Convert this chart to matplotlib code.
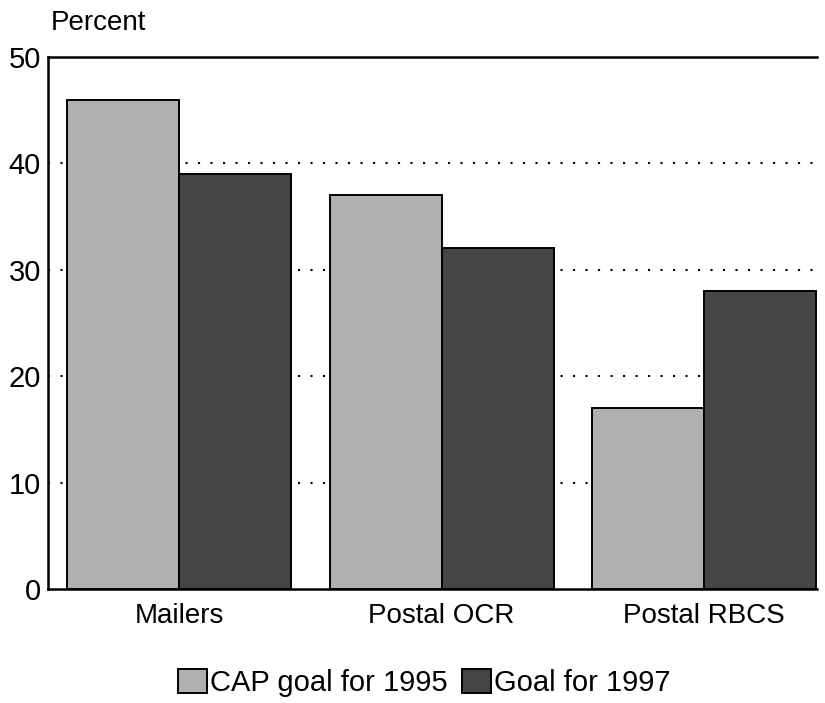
import matplotlib
matplotlib.use('Agg')
import matplotlib.pyplot as plt
import numpy as np

# data
categories = ['Mailers', 'Postal OCR', 'Postal RBCS']
cap_1995 = [46, 37, 17]
goal_1997 = [39, 32, 28]
series_names = ['CAP goal for 1995', 'Goal for 1997']

plt.rcParams['font.family'] = ['Liberation Sans', 'DejaVu Sans']

fig = plt.figure(figsize=(8.25, 7.03), dpi=100)
ax = fig.add_axes([0.0582, 0.1622, 0.9318, 0.7568])

x = np.arange(len(categories))
w = 0.427
b1 = ax.bar(x - w / 2, cap_1995, w, color='#b0b0b0', edgecolor='black',
            linewidth=1.4, label=series_names[0], zorder=3)
b2 = ax.bar(x + w / 2, goal_1997, w, color='#454545', edgecolor='black',
            linewidth=1.4, label=series_names[1], zorder=3)

ax.set_xlim(-0.5, x[-1] + w + 0.003)
ax.set_ylim(0, 50)
ax.set_yticks([0, 10, 20, 30, 40, 50])
ax.set_xticks(x)
ax.set_xticklabels(categories)
ax.tick_params(axis='both', length=0)
ax.tick_params(axis='y', pad=5, labelsize=21)
ax.tick_params(axis='x', pad=10, labelsize=20)

for v in [10, 20, 30, 40]:
    ax.axhline(v, color='black', linestyle=(0, (1, 5)), linewidth=1.5, zorder=1)

for s in ['left', 'bottom', 'top']:
    ax.spines[s].set_linewidth(1.8)
ax.spines['right'].set_visible(False)

fig.text(0.061, 0.967, 'Percent', fontsize=20, ha='left', va='center')

fig.legend(handles=[b1, b2], loc='center', bbox_to_anchor=(0.514, 0.028),
           ncol=2, frameon=False, fontsize=21, handlelength=1.0,
           handleheight=0.9, handletextpad=0.1, columnspacing=0.5)

fig.savefig('out.png', dpi=100)
